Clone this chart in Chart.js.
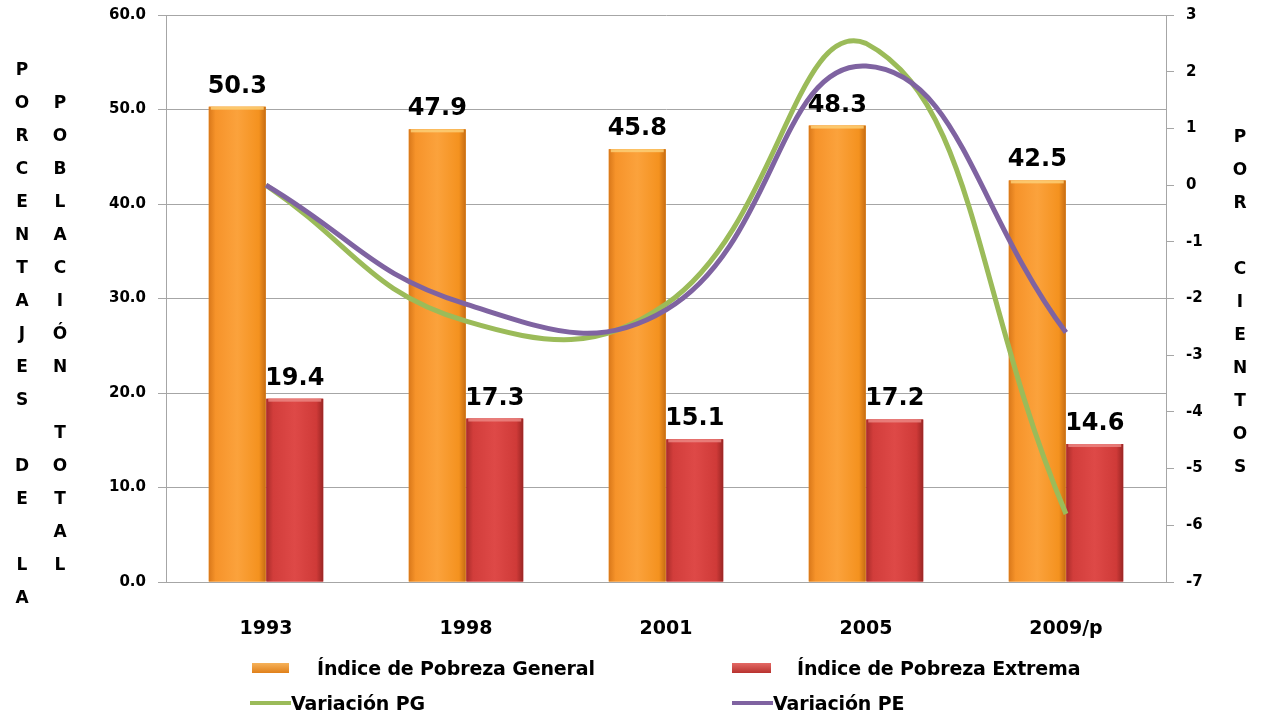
<!DOCTYPE html>
<html>
<head>
<meta charset="utf-8">
<script src="https://cdn.jsdelivr.net/npm/chart.js@4"></script>
<style>
  body { margin: 0; background: #fff; }
  #wrap { position: relative; width: 1262px; height: 719px; overflow: hidden; }
  canvas { position: absolute; left: 0; top: 0; }
  .vtitle { position: absolute; width: 30px; text-align: center; font: bold 17px "DejaVu Sans", sans-serif; line-height: 33px; color: #000; }
  .leg { position: absolute; font: bold 19px "DejaVu Sans", sans-serif; letter-spacing: -0.15px; color: #000; line-height: 24px; white-space: nowrap; }
  .sw { position: absolute; }
</style>
</head>
<body>
<div id="wrap">
  <canvas id="grafico" width="1262" height="719"></canvas>

  <div class="vtitle" id="t1" style="left:7px; top:53px;"></div>
  <div class="vtitle" id="t2" style="left:45px; top:86px;"></div>
  <div class="vtitle" id="t3" style="left:1225px; top:120px;"></div>

  <div class="sw" style="left:252px; top:663px; width:37px; height:10px; background:linear-gradient(#f6b25a,#e0801a);"></div>
  <div class="leg" style="left:317px; top:656px;">Índice de Pobreza General</div>
  <div class="sw" style="left:732px; top:663px; width:39px; height:10px; background:linear-gradient(#e46a66,#b8322f);"></div>
  <div class="leg" style="left:797px; top:656px;">Índice de Pobreza Extrema</div>
  <div class="sw" style="left:250px; top:701px; width:41px; height:4px; background:#9bbb59;"></div>
  <div class="leg" style="left:291px; top:691px;">Variación PG</div>
  <div class="sw" style="left:732px; top:701px; width:41px; height:4px; background:#7f63a1;"></div>
  <div class="leg" style="left:773px; top:691px;">Variación PE</div>
</div>

<script>
// Datos del gráfico
const anios = ['1993', '1998', '2001', '2005', '2009/p'];
const pobrezaGeneral = [50.3, 47.9, 45.8, 48.3, 42.5];
const pobrezaExtrema = [19.4, 17.3, 15.1, 17.2, 14.6];
const variacionPG = [0, -2.4, -2.1, 2.5, -5.8];
const variacionPE = [0, -2.1, -2.2, 2.1, -2.6];

// Títulos verticales (una letra por línea)
function ponerVertical(id, texto) {
  document.getElementById(id).innerHTML = texto.split('').map(c => c === ' ' ? '&nbsp;' : c).join('<br>');
}
ponerVertical('t1', 'PORCENTAJES DE LA');
ponerVertical('t2', 'POBLACIÓN TOTAL');
ponerVertical('t3', 'POR CIENTOS');

const gris = '#a6a6a6';
const fuente = '"DejaVu Sans", sans-serif';

// Relleno tipo cilindro para las barras
const degradados = {
  0: ['#d9781a', '#f6932a', '#fba23c', '#f4921f', '#c66c12', '#fcd27a'],
  1: ['#a82c2a', '#d23d3b', '#de4947', '#cf3a38', '#9a2624', '#ec8a86']
};
const barrasCilindro = {
  id: 'barrasCilindro',
  afterDatasetDraw(chart, args) {
    const c = degradados[args.index];
    if (!c) return;
    const ctx = chart.ctx;
    ctx.save();
    args.meta.data.forEach(el => {
      const x0 = el.x - el.width / 2, x1 = el.x + el.width / 2;
      const g = ctx.createLinearGradient(x0, 0, x1, 0);
      g.addColorStop(0, c[0]);
      g.addColorStop(0.12, c[1]);
      g.addColorStop(0.5, c[2]);
      g.addColorStop(0.88, c[3]);
      g.addColorStop(1, c[4]);
      ctx.fillStyle = g;
      ctx.fillRect(x0, el.y, el.width, el.base - el.y);
      // borde superior claro
      ctx.fillStyle = c[5];
      ctx.globalAlpha = 0.8;
      ctx.fillRect(x0 + 2, el.y, el.width - 4, 3);
      ctx.globalAlpha = 1;
    });
    ctx.restore();
  }
};

// Etiquetas de valor encima de las barras
const etiquetas = {
  id: 'etiquetas',
  afterDatasetsDraw(chart) {
    const ctx = chart.ctx;
    ctx.save();
    ctx.font = 'bold 24px ' + fuente;
    ctx.fillStyle = '#000';
    ctx.textAlign = 'center';
    ctx.textBaseline = 'alphabetic';
    [0, 1].forEach(i => {
      const meta = chart.getDatasetMeta(i);
      meta.data.forEach((el, j) => {
        ctx.fillText(chart.data.datasets[i].data[j].toFixed(1), el.x, el.y - 14);
      });
    });
    ctx.restore();
  }
};

// marcas cada 2 unidades en el eje izquierdo
function marcasCada(paso) {
  return s => {
    const t = [];
    for (let v = s.min; v <= s.max + 1e-9; v += paso) t.push({ value: Math.round(v * 100) / 100 });
    s.ticks = t;
  };
}

new Chart(document.getElementById('grafico'), {
  data: {
    labels: anios,
    datasets: [
      {
        type: 'bar',
        label: 'Índice de Pobreza General',
        data: pobrezaGeneral,
        backgroundColor: '#f7941e',
        yAxisID: 'y',
        order: 2,
        categoryPercentage: 0.575,
        barPercentage: 0.99
      },
      {
        type: 'bar',
        label: 'Índice de Pobreza Extrema',
        data: pobrezaExtrema,
        backgroundColor: '#d9413e',
        yAxisID: 'y',
        order: 2,
        categoryPercentage: 0.575,
        barPercentage: 0.99
      },
      {
        type: 'line',
        label: 'Variación PG',
        data: variacionPG,
        borderColor: '#9bbb59',
        borderWidth: 5,
        pointRadius: 0,
        tension: 0.45,
        yAxisID: 'y1',
        order: 1
      },
      {
        type: 'line',
        label: 'Variación PE',
        data: variacionPE,
        borderColor: '#7f63a1',
        borderWidth: 5,
        pointRadius: 0,
        tension: 0.45,
        yAxisID: 'y1',
        order: 0
      }
    ]
  },
  options: {
    responsive: false,
    animation: false,
    layout: { padding: { top: 15, left: 0, right: 0, bottom: 0 } },
    plugins: {
      legend: { display: false },
      tooltip: { enabled: false }
    },
    scales: {
      x: {
        offset: true,
        grid: { display: false },
        border: { display: true, color: gris, width: 1 },
        ticks: { color: '#000', font: { family: fuente, weight: 'bold', size: 19 }, padding: 28 },
        afterFit: s => { s.height = 137; }
      },
      y: {
        position: 'left',
        min: 0,
        max: 60,
        border: { display: true, color: gris, width: 1 },
        grid: {
          color: c => (c.tick && c.tick.value % 10 === 0) ? gris : 'rgba(0,0,0,0)',
          tickColor: gris,
          tickLength: 8
        },
        afterBuildTicks: marcasCada(2),
        ticks: {
          autoSkip: false,
          padding: 12,
          color: '#000',
          font: { family: fuente, weight: 'bold', size: 15 },
          callback: v => v % 10 === 0 ? v.toFixed(1) : null
        },
        afterFit: s => { s.width = 166; s.paddingTop = 2; s.paddingBottom = 2; }
      },
      y1: {
        position: 'right',
        min: -7,
        max: 3,
        border: { display: true, color: gris, width: 1 },
        grid: { drawOnChartArea: false, color: gris, tickLength: 8 },
        afterBuildTicks: marcasCada(1),
        ticks: {
          autoSkip: false,
          padding: 12,
          color: '#000',
          font: { family: fuente, weight: 'bold', size: 15 }
        },
        afterFit: s => { s.width = 96; s.paddingTop = 2; s.paddingBottom = 2; }
      }
    }
  },
  plugins: [barrasCilindro, etiquetas]
});
</script>
</body>
</html>
